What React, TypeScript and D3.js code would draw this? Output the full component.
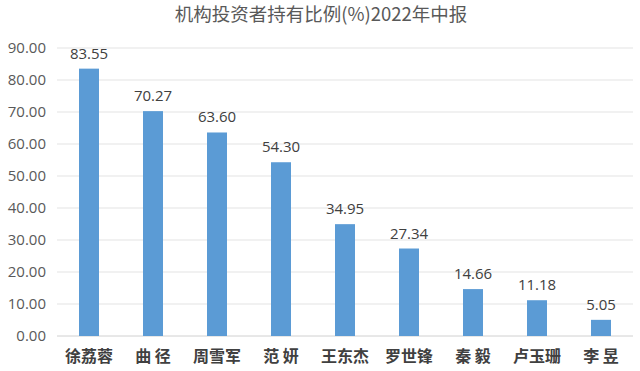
import React from 'react'
import * as d3 from 'd3'

const names = ['徐荔蓉', '曲 径', '周雪军', '范 妍', '王东杰', '罗世锋', '秦 毅', '卢玉珊', '李 昱']
const ratios = [83.55, 70.27, 63.6, 54.3, 34.95, 27.34, 14.66, 11.18, 5.05]
const yTicks = [0, 10, 20, 30, 40, 50, 60, 70, 80, 90]

const W = 640
const H = 371
const m = { top: 48, right: 7, bottom: 35, left: 57 }

const App: React.FC = () => {
    const x = d3
        .scaleBand()
        .domain(names)
        .range([m.left, W - m.right])
        .paddingInner(0.6875)
        .paddingOuter(0.34375)
    const y = d3
        .scaleLinear()
        .domain([0, 90])
        .range([H - m.bottom, m.top])
    const num = d3.format('.2f')

    return (
        <svg width={W} height={H} style={{ position: 'absolute', left: 0, top: 0 }}>
            <rect width={W} height={H} fill='#fff' />
            <text
                x={321}
                y={21}
                textAnchor='middle'
                fill='#595959'
                style={{ fontSize: 18.5, fontFamily: '"Noto Sans CJK SC", "Open Sans", sans-serif' }}
            >
                机构投资者持有比例(%)2022年中报
            </text>
            {yTicks.map((t) => (
                <g key={t}>
                    <line
                        x1={m.left}
                        x2={W - m.right}
                        y1={y(t)}
                        y2={y(t)}
                        stroke={t === 0 ? '#d0d0d0' : '#e3e3e3'}
                        strokeWidth={1}
                    />
                    <text
                        x={46}
                        y={y(t)}
                        dy='0.35em'
                        textAnchor='end'
                        fill='#595959'
                        style={{ fontSize: 15, fontFamily: '"Open Sans", "Liberation Sans", sans-serif' }}
                    >
                        {num(t)}
                    </text>
                </g>
            ))}
            {names.map((n, i) => (
                <g key={n}>
                    <rect
                        x={x(n)}
                        y={y(ratios[i])}
                        width={x.bandwidth()}
                        height={y(0) - y(ratios[i])}
                        fill='#5b9bd5'
                    />
                    <text
                        x={(x(n) ?? 0) + x.bandwidth() / 2}
                        y={y(ratios[i]) - 10}
                        textAnchor='middle'
                        fill='#404040'
                        style={{ fontSize: 15, fontFamily: '"Open Sans", "Liberation Sans", sans-serif' }}
                    >
                        {num(ratios[i])}
                    </text>
                    <text
                        x={(x(n) ?? 0) + x.bandwidth() / 2}
                        y={362}
                        textAnchor='middle'
                        fill='#404040'
                        fontWeight='bold'
                        style={{ fontSize: 16, fontFamily: '"Noto Sans CJK SC", sans-serif', whiteSpace: 'pre' }}
                    >
                        {n}
                    </text>
                </g>
            ))}
        </svg>
    )
}

export default App
